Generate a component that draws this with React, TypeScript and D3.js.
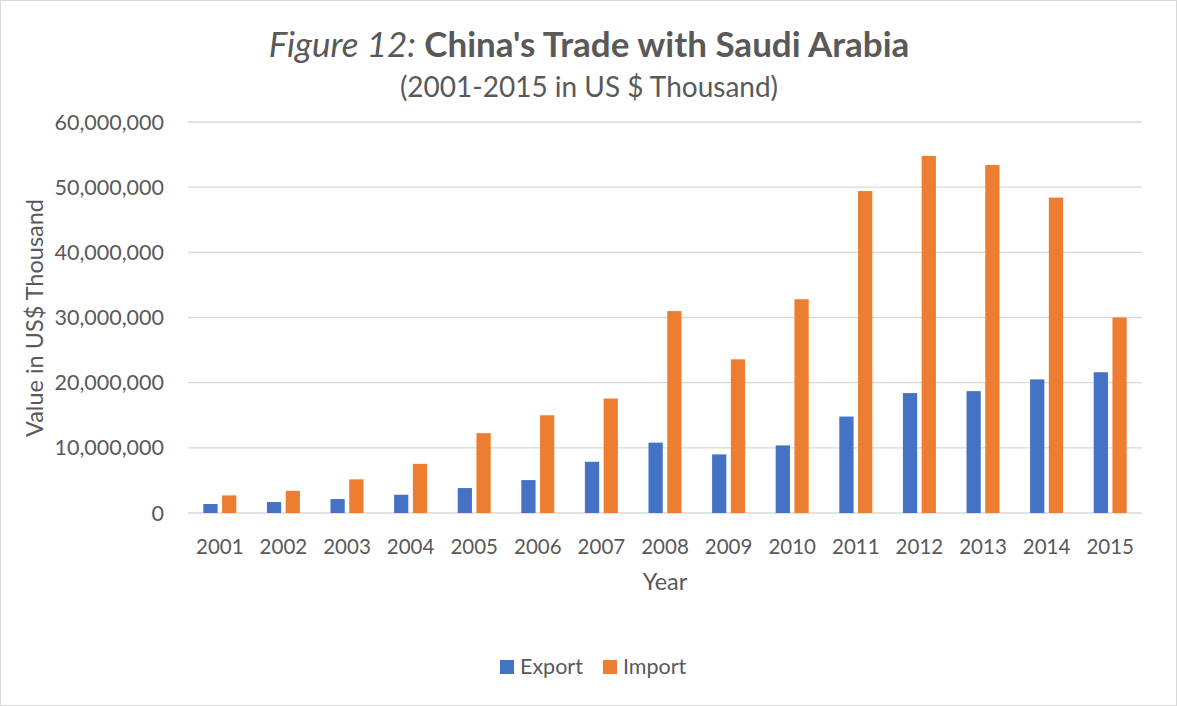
import React from 'react';
import * as d3 from 'd3';

const years = ['2001', '2002', '2003', '2004', '2005', '2006', '2007', '2008', '2009', '2010', '2011', '2012', '2013', '2014', '2015'];
const exportValues = [1380000, 1680000, 2140000, 2800000, 3830000, 5050000, 7860000, 10800000, 8990000, 10370000, 14800000, 18400000, 18700000, 20500000, 21600000];
const importValues = [2700000, 3400000, 5160000, 7550000, 12250000, 15000000, 17560000, 30980000, 23580000, 32800000, 49400000, 54800000, 53400000, 48400000, 30000000];
const seriesNames = ['Export', 'Import'];
const seriesColors = ['#4472C4', '#ED7D31'];
const yTicks = [0, 10000000, 20000000, 30000000, 40000000, 50000000, 60000000];

const W = 1177;
const H = 706;
const font = 'Lato, "Open Sans", sans-serif';
const textColor = '#595959';

const App = () => {
  const margin = { left: 188, right: 35, top: 122, bottom: 193 };

  const x = d3.scaleBand().domain(years).range([margin.left, W - margin.right]).padding(0);
  const y = d3.scaleLinear().domain([0, 60000000]).range([H - margin.bottom, margin.top]);

  // bars in a group: ~14.5px each with ~4px gap
  const groupW = 33;
  const x1 = d3.scaleBand().domain(seriesNames).range([0, groupW]).paddingInner(0.24);
  const fmt = d3.format(',');

  const series = [exportValues, importValues];

  return (
    <div style={{ position: 'absolute', left: 0, top: 0 }}>
      <svg width={W} height={H} style={{ display: 'block', background: '#fff' }}>
        <rect x={0.5} y={0.5} width={W - 1} height={H - 1} fill="#fff" stroke="#d9d9d9" />

        <text x={589} y={57} textAnchor="middle" fontFamily={font} fontSize={35} fill={textColor}>
          <tspan fontStyle="italic">Figure 12: </tspan>
          <tspan fontWeight="bold">China's Trade with Saudi Arabia</tspan>
        </text>
        <text x={589} y={97} textAnchor="middle" fontFamily={font} fontSize={28} fill={textColor}>
          (2001-2015 in US $ Thousand)
        </text>

        {yTicks.map(t => (
          <g key={t}>
            <line x1={margin.left} x2={W - margin.right} y1={y(t)} y2={y(t)} stroke="#d9d9d9" strokeWidth={1.3} />
            <text x={164} y={y(t)} dy="0.35em" textAnchor="end" fontFamily={font} fontSize={21.5} fill={textColor}>
              {fmt(t)}
            </text>
          </g>
        ))}

        {series.map((vals, si) =>
          vals.map((v, i) => {
            const cx = (x(years[i]) as number) + x.bandwidth() / 2;
            const bx = cx - groupW / 2 + (x1(seriesNames[si]) as number);
            return (
              <rect
                key={si + '-' + i}
                x={bx}
                y={y(v)}
                width={x1.bandwidth()}
                height={y(0) - y(v)}
                fill={seriesColors[si]}
              />
            );
          })
        )}

        {years.map(yr => (
          <text
            key={yr}
            x={(x(yr) as number) + x.bandwidth() / 2}
            y={554}
            textAnchor="middle"
            fontFamily={font}
            fontSize={20.5}
            fill={textColor}
          >
            {yr}
          </text>
        ))}

        <text x={665} y={590} textAnchor="middle" fontFamily={font} fontSize={23.5} fill={textColor}>
          Year
        </text>
        <text
          transform={`translate(43, ${318}) rotate(-90)`}
          textAnchor="middle"
          fontFamily={font}
          fontSize={23.5}
          fill={textColor}
        >
          Value in US$ Thousand
        </text>

        {seriesNames.map((s, i) => (
          <g key={s} transform={`translate(${i === 0 ? 500 : 603}, 660)`}>
            <rect x={0} y={0} width={14} height={14} fill={seriesColors[i]} />
            <text x={20} y={14} fontFamily={font} fontSize={21.5} fill={textColor}>
              {s}
            </text>
          </g>
        ))}
      </svg>
    </div>
  );
};

export default App;
